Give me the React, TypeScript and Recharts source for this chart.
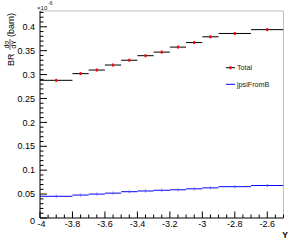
import React from "react";
import {
  ComposedChart,
  Line,
  Scatter,
  XAxis,
  YAxis,
  ReferenceLine,
  Label,
} from "recharts";

// Histogram bins (rapidity Y)
const binLow = [-4, -3.8, -3.7, -3.6, -3.5, -3.4, -3.3, -3.2, -3.1, -3.0, -2.9, -2.7];
const binHigh = [-3.8, -3.7, -3.6, -3.5, -3.4, -3.3, -3.2, -3.1, -3.0, -2.9, -2.7, -2.5];

// Series values (units of 1e-6 barn)
const totalValues = [0.288, 0.302, 0.3095, 0.32, 0.33, 0.3395, 0.347, 0.3575, 0.367, 0.379, 0.386, 0.394];
const jpsiFromBValues = [0.0454, 0.048, 0.05, 0.052, 0.055, 0.0565, 0.058, 0.059, 0.061, 0.063, 0.0655, 0.068];

// Tick labels
const yMajorLabels = ["0", "0.05", "0.1", "0.15", "0.2", "0.25", "0.3", "0.35", "0.4"];
const xMajorLabels = ["-4", "-3.8", "-3.6", "-3.4", "-3.2", "-3", "-2.8", "-2.6"];

const X_MIN = -4;
const X_MAX = -2.5;
const Y_MIN = 0;
const Y_MAX = 0.433;

const FONT = "'Liberation Sans', Arial, Helvetica, sans-serif";

// Segment data: each bin drawn as a horizontal segment, separated by nulls
const segmentData: { x: number; total: number | null; jpsi: number | null }[] = [];
binLow.forEach((lo, i) => {
  segmentData.push({ x: lo, total: totalValues[i], jpsi: jpsiFromBValues[i] });
  segmentData.push({ x: binHigh[i], total: totalValues[i], jpsi: jpsiFromBValues[i] });
  segmentData.push({ x: binHigh[i], total: null, jpsi: null });
});

const totalCenters = binLow.map((lo, i) => ({ x: (lo + binHigh[i]) / 2, y: totalValues[i] }));
const jpsiCenters = binLow.map((lo, i) => ({ x: (lo + binHigh[i]) / 2, y: jpsiFromBValues[i] }));

// Ticks (major + minor)
const yTicks: number[] = [];
for (let i = 0; i <= 43; i++) yTicks.push(Math.round(i * 100) / 10000);
const xTicks: number[] = [];
for (let i = 0; i <= 30; i++) xTicks.push(Math.round((X_MIN + i * 0.05) * 1000) / 1000);

const YTick = (props: any) => {
  const { x, y, index } = props;
  const major = index % 5 === 0;
  const label = major ? yMajorLabels[index / 5] : null;
  return (
    <g>
      <line x1={x} y1={y} x2={x + (major ? 7 : 3.5)} y2={y} stroke="#000" strokeWidth={1} />
      {label !== null && label !== undefined && (
        <text
          x={x - 5}
          y={y + (index === 0 ? 5.5 : 3.2)}
          textAnchor="end"
          fontFamily={FONT}
          fontSize={9}
          fill="#000"
        >
          {label}
        </text>
      )}
    </g>
  );
};

const XTick = (props: any) => {
  const { x, y, index } = props;
  const major = index % 4 === 0;
  const label = major ? xMajorLabels[index / 4] : null;
  return (
    <g>
      <line x1={x} y1={y} x2={x} y2={y - (major ? 6.5 : 3.5)} stroke="#000" strokeWidth={1} />
      {label !== null && label !== undefined && (
        <text
          x={x + (index === 0 ? 1.5 : 0)}
          y={y + 9.3}
          textAnchor="middle"
          fontFamily={FONT}
          fontSize={9}
          fill="#000"
        >
          {label}
        </text>
      )}
    </g>
  );
};

const TotalMarker = (props: any) => {
  const { cx, cy } = props;
  return <rect x={cx - 1} y={cy - 1.5} width={2} height={3} fill="#ff0000" />;
};
const JpsiMarker = (props: any) => {
  const { cx, cy } = props;
  return <rect x={cx - 0.5} y={cy - 1.5} width={1} height={3} fill="#6060ff" />;
};

const YTitle = () => (
  <g transform="translate(0,66) rotate(-90)" fontFamily={FONT} fill="#000">
    <text x={0} y={13.5} fontSize={9}>BR</text>
    <text x={21.5} y={9} fontSize={6.5} textAnchor="middle">dσ</text>
    <line x1={16} y1={10} x2={27} y2={10} stroke="#000" strokeWidth={0.6} />
    <text x={21.5} y={15.5} fontSize={6.5} textAnchor="middle">dY</text>
    <text x={29} y={13.5} fontSize={9}>(barn)</text>
  </g>
);

const Extras = () => (
  <g fontFamily={FONT}>
    {/* exponent */}
    <text x={37} y={9.5} fontSize={6.2} fill="#222">×10</text>
    <text x={48.2} y={5} fontSize={5} fill="#222">-6</text>
    {/* x title */}
    <text x={288} y={237.5} fontSize={8.5} fontWeight="bold" textAnchor="end" fill="#000">Y</text>
    {/* legend */}
    <line x1={226} y1={67.7} x2={235} y2={67.7} stroke="#000" strokeWidth={1} />
    <rect x={229.5} y={66.2} width={2} height={3} fill="#ff0000" />
    <text x={237} y={70} fontSize={7.2} fill="#222">Total</text>
    <line x1={226} y1={84.3} x2={235} y2={84.3} stroke="#0000ff" strokeWidth={1} />
    <text x={237} y={86.5} fontSize={7.2} fill="#222">jpsiFromB</text>
  </g>
);

export default function App() {
  return (
    <div style={{ position: "absolute", left: 0, top: 0, width: 293, height: 245, background: "#fff" }}>
      <ComposedChart
        width={293}
        height={245}
        data={segmentData}
        margin={{ top: 11, right: 9.5, bottom: 0, left: 0 }}
      >
        <XAxis
          dataKey="x"
          type="number"
          domain={[X_MIN, X_MAX]}
          ticks={xTicks}
          interval={0}
          allowDataOverflow
          height={27}
          tickSize={0}
          tickMargin={0}
          tickLine={false}
          tick={<XTick />}
          axisLine={{ stroke: "#000", strokeWidth: 1 }}
        >
          <Label content={() => <Extras />} />
        </XAxis>
        <YAxis
          type="number"
          domain={[Y_MIN, Y_MAX]}
          ticks={yTicks}
          interval={0}
          allowDataOverflow
          width={40}
          tickSize={0}
          tickMargin={0}
          tickLine={false}
          tick={<YTick />}
          axisLine={{ stroke: "#000", strokeWidth: 1 }}
        >
          <Label content={() => <YTitle />} />
        </YAxis>
        <ReferenceLine y={Y_MAX} stroke="#c0c0c0" strokeWidth={1} />
        <ReferenceLine x={X_MAX} stroke="#c0c0c0" strokeWidth={1} />
        <Line
          dataKey="total"
          stroke="#000"
          strokeWidth={1}
          dot={false}
          activeDot={false}
          connectNulls={false}
          isAnimationActive={false}
          type="linear"
        />
        <Line
          dataKey="jpsi"
          stroke="#0000ff"
          strokeWidth={1}
          dot={false}
          activeDot={false}
          connectNulls={false}
          isAnimationActive={false}
          type="linear"
        />
        <Scatter data={totalCenters} dataKey="y" shape={<TotalMarker />} isAnimationActive={false} />
        <Scatter data={jpsiCenters} dataKey="y" shape={<JpsiMarker />} isAnimationActive={false} />
      </ComposedChart>
    </div>
  );
}
